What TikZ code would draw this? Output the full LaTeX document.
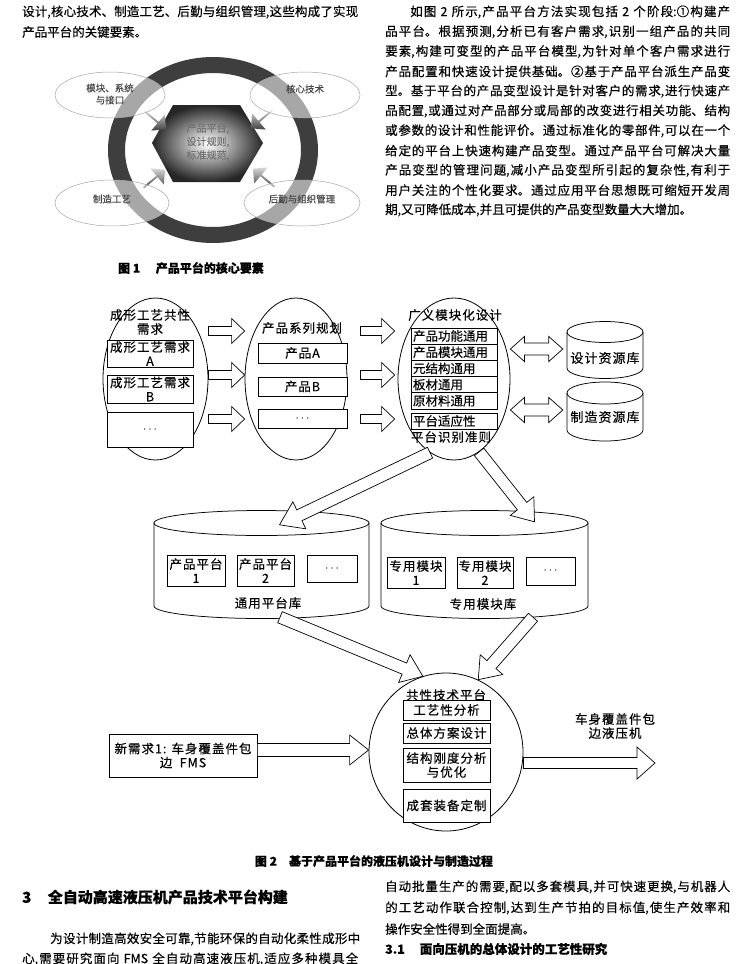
\documentclass[tikz,border=0pt]{standalone}
\usepackage{fontspec}
\setmainfont[FakeBold=0.4]{Noto Sans CJK SC}
\newfontfamily\dfam[LetterSpace=8,FakeBold=0.3]{Noto Sans CJK SC}
\usetikzlibrary{shapes.geometric,shapes.arrows,calc}
\definecolor{ringc}{HTML}{3E3E3E}
\newcommand\fs[1]{\fontsize{#1}{#1}\selectfont}
\newcommand\ft{\dfam\fontsize{12.5}{14}\selectfont}
\newcommand\jline[5]{\node[anchor=west,inner sep=0pt,text width=#4pt,font=\fontsize{12.5}{15}\selectfont] (#1) at (#2,#3) {\XeTeXlinebreaklocale "zh"\XeTeXlinebreakskip=0pt plus 10pt\relax\parindent=0pt\leftskip=0pt\rightskip=0pt\parfillskip=0pt\noindent #5\par};}
\newcommand\barrow[5]{\draw[harrow] let \p1=(#1),\p2=(#2),\n1={atan2(\y2-\y1,\x2-\x1)},\n2={veclen(\x2-\x1,\y2-\y1)} in [shift={(\p1)},rotate=\n1] (0pt,-#3pt) -- ({\n2-#5pt},-#3pt) -- ({\n2-#5pt},-#4pt) -- ({\n2+0pt},0pt) -- ({\n2-#5pt},#4pt) -- ({\n2-#5pt},#3pt) -- (0pt,#3pt) -- cycle;}
\newcommand\darrow[5]{\draw[harrow] let \p1=(#1),\p2=(#2),\n1={atan2(\y2-\y1,\x2-\x1)},\n2={veclen(\x2-\x1,\y2-\y1)} in [shift={(\p1)},rotate=\n1] (0pt,0pt) -- (#5pt,#4pt) -- (#5pt,#3pt) -- ({\n2-#5pt},#3pt) -- ({\n2-#5pt},#4pt) -- ({\n2+0pt},0pt) -- ({\n2-#5pt},-#4pt) -- ({\n2-#5pt},-#3pt) -- (#5pt,-#3pt) -- (#5pt,-#4pt) -- cycle;}
\newcommand\cyl[6]{%
  \node[inner sep=0pt,minimum width={2*#5pt},minimum height={(#4-#3)*1pt}] (#1) at (#2,{(#3+#4)/2}) {};
  \draw[dline] (#2-#5,#3) -- (#2-#5,#4) arc[start angle=180,end angle=360,x radius=#5pt,y radius=#6pt] -- (#2+#5,#3);
  \draw[dline] (#2,#3) ellipse [x radius=#5pt,y radius=#6pt];}
\begin{document}
\begin{tikzpicture}[x=1pt,y=-1pt,
  body/.style={inner sep=0pt,anchor=west,font=\fontsize{12.5}{15}\selectfont},
  capt/.style={inner sep=0pt,font=\bfseries\fs{12}},
  dline/.style={line width=0.75pt},
  harrow/.style={draw,fill=white,line width=0.7pt,line join=miter},
  ell/.style={ellipse,draw,inner sep=0pt,line width=0.8pt},
  dt/.style={inner sep=0pt,align=center,font=\ft},
  dbox/.style={draw,fill=white,line width=0.75pt,inner sep=0pt,align=center,font=\ft},
  sbox/.style={draw,fill=white,line width=0.75pt,inner xsep=2pt,inner ysep=0pt,minimum width=86pt,text width=82pt,align=left,minimum height=16.2pt,font=\ft},
  f1ell/.style={ellipse,draw=gray!70,line width=0.5pt,fill=white,fill opacity=0.55,inner sep=0pt},
  f1t/.style={inner sep=0pt,align=center,text=black!72,font=\fontsize{9.5}{12}\selectfont},
  smarr/.style={single arrow,draw=none,minimum height=28pt,minimum width=21pt,single arrow head extend=2pt,inner sep=0pt,top color=gray!30,bottom color=black!75}
]
\useasboundingbox (0,0) rectangle (741,964);
\fill[white] (0,0) rectangle (741,964);

% ---------- top-left text ----------
\jline{tl1}{22}{12}{336}{设计,核心技术、制造工艺、后勤与组织管理,这些构成了实现}
\node[body] (tl2) at (22,32) {产品平台的关键要素。};

% ---------- top-right paragraph ----------
\jline{p1}{410}{12}{320}{如图 2 所示,产品平台方法实现包括 2 个阶段:①构建产}
\jline{p2}{385}{31.8}{345}{品平台。根据预测,分析已有客户需求,识别一组产品的共同}
\jline{p3}{385}{51.6}{345}{要素,构建可变型的产品平台模型,为针对单个客户需求进行}
\jline{p4}{385}{71.4}{345}{产品配置和快速设计提供基础。②基于产品平台派生产品变}
\jline{p5}{385}{91.2}{345}{型。基于平台的产品变型设计是针对客户的需求,进行快速产}
\jline{p6}{385}{111}{345}{品配置,或通过对产品部分或局部的改变进行相关功能、结构}
\jline{p7}{385}{130.8}{345}{或参数的设计和性能评价。通过标准化的零部件,可以在一个}
\jline{p8}{385}{150.6}{345}{给定的平台上快速构建产品变型。通过产品平台可解决大量}
\jline{p9}{385}{170.4}{345}{产品变型的管理问题,减小产品变型所引起的复杂性,有利于}
\jline{p10}{385}{190.2}{345}{用户关注的个性化要求。通过应用平台思想既可缩短开发周}
\node[body] (p11) at (385,210) {期,又可降低成本,并且可提供的产品变型数量大大增加。};

% ---------- Figure 1 ----------
\fill[ringc,even odd rule] (213,150) ellipse [x radius=105pt,y radius=93pt] (213,150) ellipse [x radius=88pt,y radius=77pt];
\shade[inner color=white,outer color=black!85] (152,143) -- (173,105) -- (240,105) -- (263,143) -- (240,182) -- (173,182) -- cycle;
\node[inner sep=0pt,align=center,text=black!55,font=\fontsize{10}{13.5}\selectfont] (hex) at (208,142) {产品平台,\\设计规则,\\标准规范,};
\node[smarr,rotate=-40] (a1) at (155,120) {};
\node[smarr,rotate=-140] (a2) at (262,119) {};
\node[smarr,rotate=40] (a3) at (154,179) {};
\node[smarr,rotate=140] (a4) at (264,178) {};
\node[f1ell,minimum width=110pt,minimum height=46pt] (m1) at (110,95) {};
\node[f1ell,minimum width=110pt,minimum height=46pt] (m2) at (305,95) {};
\node[f1ell,minimum width=114pt,minimum height=46pt] (m3) at (112,203) {};
\node[f1ell,minimum width=116pt,minimum height=46pt] (m4) at (302,203) {};
\node[f1t] (m1t) at (110,94) {模块、系统\\与接口};
\node[f1t] (m2t) at (305,89) {核心技术};
\node[f1t] (m3t) at (112,199) {制造工艺};
\node[f1t] (m4t) at (302,199) {后勤与组织管理};
\node[capt] (cap1) at (191,268) {图 1\hspace{1.3em}产品平台的核心要素};

% ---------- Figure 2 ----------
\node[ell,minimum width=105pt,minimum height=162pt] (e1) at (155.5,379) {};
\node[ell,minimum width=102pt,minimum height=162pt] (e2) at (296,379) {};
\node[ell,minimum width=112pt,minimum height=162pt] (e3) at (454,379) {};

\node[dt] (e1t) at (150,322) {成形工艺共性\\需求};
\node[dbox,minimum width=86pt,minimum height=27pt] (ra) at (150,353.5) {成形工艺需求\\A};
\node[dbox,minimum width=86pt,minimum height=28pt] (rb) at (150,389) {成形工艺需求\\B};
\node[dbox,minimum width=86pt,minimum height=35pt] (rc) at (150,429.5) {$\cdots$};

\node[dt] (e2t) at (302,328) {产品系列规划};
\node[dbox,minimum width=89pt,minimum height=20pt] (pa) at (302.5,353) {产品A};
\node[dbox,minimum width=89pt,minimum height=19pt] (pb) at (302.5,386.5) {产品B};
\node[dbox,minimum width=89pt,minimum height=19pt] (pc) at (302.5,418.5) {$\cdots$};

\node[dt] (e3t) at (455,315) {广义模块化设计};
\node[sbox] (s1) at (454,336) {产品功能通用};
\node[sbox] (s2) at (454,352.2) {产品模块通用};
\node[sbox] (s3) at (454,368.4) {元结构通用};
\node[sbox] (s4) at (454,384.6) {板材通用};
\node[sbox] (s5) at (454,400.8) {原材料通用};
\node[sbox] (s6) at (454,421) {平台适应性};
\node[dt] (e3b) at (451,437) {平台识别准则};

\cyl{dr}{605}{332}{368}{38}{10.5}
\node[dt,font=\dfam\fs{13}] (drl) at (605,358) {设计资源库};
\cyl{mr}{605}{393}{430}{38}{11}
\node[dt,font=\dfam\fs{13}] (mrl) at (605,417) {制造资源库};

\cyl{cl}{261.5}{523}{606}{107.5}{12.5}
\cyl{cr}{484.5}{523}{606}{103.5}{12.5}
\node[dbox,minimum width=58pt,minimum height=31pt] (pp1) at (196,570.5) {产品平台\\1};
\node[dbox,minimum width=57pt,minimum height=31pt] (pp2) at (265.5,570.5) {产品平台\\2};
\node[dbox,minimum width=50pt,minimum height=27pt] (pp3) at (332,568.5) {$\cdots$};
\node[dt] (cll) at (268,603) {通用平台库};
\node[dbox,minimum width=58pt,minimum height=31pt] (zm1) at (416,572.5) {专用模块\\1};
\node[dbox,minimum width=56pt,minimum height=31pt] (zm2) at (485,572.5) {专用模块\\2};
\node[dbox,minimum width=49pt,minimum height=28pt] (zm3) at (550.5,571) {$\cdots$};
\node[dt] (crl) at (483,604) {专用模块库};

\node[ell,minimum width=154pt,minimum height=158pt] (c) at (446,752) {};
\node[dt] (ct) at (446,695) {共性技术平台};
\node[dbox,minimum width=87pt,minimum height=20pt] (k1) at (446.5,710) {工艺性分析};
\node[dbox,minimum width=87pt,minimum height=20pt] (k2) at (446.5,733) {总体方案设计};
\node[dbox,minimum width=87pt,minimum height=34pt] (k3) at (446.5,765) {结构刚度分析\\与优化};
\node[dbox,minimum width=87pt,minimum height=33pt] (k4) at (446.5,805.5) {成套装备定制};

\node[dbox,minimum width=148pt,minimum height=43pt] (fms) at (183,755.5) {新需求1: 车身覆盖件包\\边\hspace{0.6em}FMS};
\coordinate (out) at (655,763);
\node[dt] (outl) at (615,726) {车身覆盖件包\\边液压机};

% connectors
\coordinate (r1) at (0,331);
\coordinate (r2) at (0,375);
\coordinate (r3) at (0,419);
\coordinate (d1) at (0,349);
\coordinate (d2) at (0,410);
\coordinate (f) at (0,750);
\coordinate (o) at (0,763);
\foreach \r in {r1,r2,r3}{
  \barrow{e1.east |- \r}{e2.west |- \r}{4.5}{12.5}{13}
  \barrow{$(e2.east |- \r)+(13,0)$}{$(e3.west |- \r)+(-3,0)$}{4.5}{12.5}{13}
}
\darrow{e3.east |- d1}{$(dr.west |- d1)+(-4,0)$}{6}{12.5}{14}
\darrow{e3.east |- d2}{$(mr.west |- d2)+(-4,0)$}{6}{12.5}{14}
\barrow{e3.252}{[xshift=18pt,yshift=-2pt]cl.north}{6}{15}{22}
\barrow{e3.289}{[xshift=50pt,yshift=1pt]cr.north}{6}{15}{20}
\barrow{[xshift=18.5pt,yshift=-11pt]cl.south}{c.107}{6}{15}{20}
\barrow{[xshift=48.5pt,yshift=-11pt]cr.south}{c.66}{6}{15}{20}
\barrow{fms.east |- f}{c.west |- f}{6.5}{15}{19}
\barrow{c.east |- o}{out}{5.5}{16}{18}

\node[capt] (cap2) at (374,861) {图 2\hspace{1em}基于产品平台的液压机设计与制造过程};

% ---------- bottom text ----------
\node[inner sep=0pt,anchor=west,font=\bfseries\fs{15}] (h3) at (22,897) {3\hspace{1.1em}全自动高速液压机产品技术平台构建};
\jline{b1}{50}{939}{310}{为设计制造高效安全可靠,节能环保的自动化柔性成形中}
\jline{b2}{22}{959}{336}{心,需要研究面向 FMS 全自动高速液压机,适应多种模具全}
\jline{q1}{385}{887}{345}{自动批量生产的需要,配以多套模具,并可快速更换,与机器人}
\jline{q2}{385}{908}{345}{的工艺动作联合控制,达到生产节拍的目标值,使生产效率和}
\node[body] (q3) at (385,929) {操作安全性得到全面提高。};
\node[body,font=\bfseries\fs{12.5}] (q4) at (385,949) {3.1\hspace{1.2em}面向压机的总体设计的工艺性研究};
\end{tikzpicture}
\end{document}
